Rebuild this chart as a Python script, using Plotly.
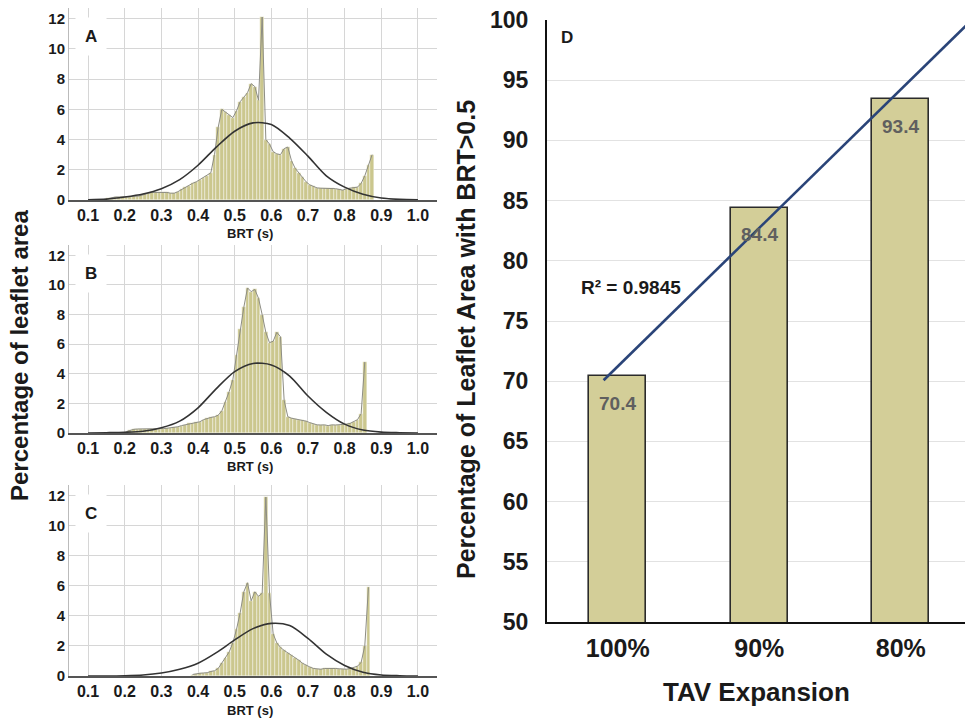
import numpy as np
import plotly.graph_objects as go

FONT = "Liberation Sans, Arial, sans-serif"

# ---------------- Data: BRT histograms (bin centres, % of leaflet area) ----------------
brt_a = [0.155, 0.165, 0.175, 0.185, 0.195, 0.205, 0.215, 0.225, 0.235, 0.245,
         0.255, 0.265, 0.275, 0.285, 0.295, 0.305, 0.315, 0.325, 0.335, 0.345,
         0.355, 0.365, 0.375, 0.385, 0.395, 0.405, 0.415, 0.425, 0.435, 0.445,
         0.455, 0.465, 0.475, 0.485, 0.495, 0.505, 0.515, 0.525, 0.535, 0.545,
         0.555, 0.565, 0.575, 0.585, 0.595, 0.605, 0.615, 0.625, 0.635, 0.645,
         0.655, 0.665, 0.675, 0.685, 0.695, 0.705, 0.715, 0.725, 0.735, 0.745,
         0.755, 0.765, 0.775, 0.785, 0.795, 0.805, 0.815, 0.825, 0.835, 0.845,
         0.855, 0.865, 0.875]
pct_a = [0.1, 0.15, 0.2, 0.2, 0.2, 0.2, 0.22, 0.25, 0.25, 0.3,
         0.4, 0.45, 0.5, 0.5, 0.55, 0.55, 0.5, 0.45, 0.45, 0.55,
         0.7, 0.85, 0.95, 1.1, 1.2, 1.35, 1.45, 1.6, 1.8, 3.0,
         4.8, 6.0, 5.8, 5.6, 5.45, 5.9, 6.5, 6.8, 7.1, 7.7,
         7.5, 6.6, 12.1, 4.0, 3.7, 3.2, 3.05, 3.0, 3.4, 3.5,
         2.6, 2.1, 1.8, 1.5, 1.2, 1.0, 0.9, 0.8, 0.78, 0.78,
         0.78, 0.78, 0.75, 0.7, 0.65, 0.75, 0.8, 0.85, 0.85, 1.1,
         1.6, 2.3, 3.0]

brt_b = [0.205, 0.215, 0.225, 0.235, 0.245, 0.255, 0.265, 0.275, 0.285, 0.295,
         0.305, 0.315, 0.325, 0.335, 0.345, 0.355, 0.365, 0.375, 0.385, 0.395,
         0.405, 0.415, 0.425, 0.435, 0.445, 0.455, 0.465, 0.475, 0.485, 0.495,
         0.505, 0.515, 0.525, 0.535, 0.545, 0.555, 0.565, 0.575, 0.585, 0.595,
         0.605, 0.615, 0.625, 0.635, 0.645, 0.655, 0.665, 0.675, 0.685, 0.695,
         0.705, 0.715, 0.725, 0.735, 0.745, 0.755, 0.765, 0.775, 0.785, 0.795,
         0.805, 0.815, 0.825, 0.835, 0.845, 0.855]
pct_b = [0.1, 0.2, 0.25, 0.27, 0.27, 0.25, 0.25, 0.25, 0.27, 0.3,
         0.3, 0.32, 0.35, 0.38, 0.42, 0.5, 0.55, 0.65, 0.7, 0.75,
         0.76, 0.9, 1.0, 1.05, 1.1, 1.2, 1.5, 2.1, 2.8, 3.6,
         5.3, 7.0, 8.5, 9.8, 9.55, 9.7, 9.1, 8.0, 6.8, 6.1,
         6.2, 6.8, 6.5, 2.2, 1.1, 1.0, 0.95, 0.9, 0.88, 0.8,
         0.7, 0.6, 0.55, 0.54, 0.55, 0.5, 0.55, 0.54, 0.55, 0.6,
         0.6, 0.65, 0.75, 0.9, 1.3, 4.8]

brt_c = [0.385, 0.395, 0.405, 0.415, 0.425, 0.435, 0.445, 0.455, 0.465, 0.475,
         0.485, 0.495, 0.505, 0.515, 0.525, 0.535, 0.545, 0.555, 0.565, 0.575,
         0.585, 0.595, 0.605, 0.615, 0.625, 0.635, 0.645, 0.655, 0.665, 0.675,
         0.685, 0.695, 0.705, 0.715, 0.725, 0.735, 0.745, 0.755, 0.765, 0.775,
         0.785, 0.795, 0.805, 0.815, 0.825, 0.835, 0.845, 0.855, 0.865]
pct_c = [0.1, 0.15, 0.18, 0.2, 0.22, 0.3, 0.35, 0.5, 0.85, 1.2,
         1.6, 2.2, 3.1, 4.2, 5.6, 6.2, 5.0, 5.6, 5.3, 5.5,
         11.9, 5.5, 2.8, 2.2, 1.9, 1.7, 1.55, 1.4, 1.2, 1.05,
         0.85, 0.7, 0.6, 0.5, 0.45, 0.45, 0.5, 0.5, 0.55, 0.5,
         0.48, 0.45, 0.45, 0.5, 0.55, 0.65, 0.9, 2.0, 5.9]

# Fitted normal curves
curve_x = [0.10, 0.15, 0.20, 0.25, 0.30, 0.35, 0.40, 0.45, 0.50, 0.55,
           0.60, 0.65, 0.70, 0.75, 0.80, 0.85, 0.90, 0.95, 1.00]
curve_a = [0.02, 0.06, 0.2, 0.4, 0.75, 1.35, 2.3, 3.5, 4.55, 5.1,
           5.0, 4.1, 2.9, 1.6, 0.85, 0.38, 0.13, 0.04, 0.01]
curve_b = [0.0, 0.02, 0.05, 0.12, 0.35, 0.8, 1.7, 3.0, 4.15, 4.7,
           4.6, 3.85, 2.5, 1.4, 0.6, 0.2, 0.06, 0.02, 0.0]
curve_c = [0.0, 0.0, 0.02, 0.07, 0.2, 0.45, 0.85, 1.55, 2.4, 3.15,
           3.5, 3.35, 2.5, 1.45, 0.7, 0.25, 0.07, 0.02, 0.0]

brt_ticks = [0.1, 0.2, 0.3, 0.4, 0.5, 0.6, 0.7, 0.8, 0.9, 1.0]
pct_ticks = [0, 2, 4, 6, 8, 10, 12]
bin_width = 0.01

# ---------------- Data: panel D ----------------
tav_expansion = ["100%", "90%", "80%"]
area_over_05 = [70.4, 84.4, 93.4]
r_squared_text = "R² = 0.9845"
trend_x_ends = [-0.1, 2.6]

# ---------------- Styling ----------------
HIST_FILL = "#cbc78e"
BAR_FILL = "#d3ce98"
GRID = "#d6d6d6"
TXT = "#1a1a1a"

W, H = 965, 718


def px_x(p):
    return p / W


def px_y(p):
    return 1 - p / H


def label(x, y, text, size, color=TXT, **kw):
    fig.add_annotation(xref="paper", yref="paper", x=px_x(x), y=px_y(y), text=text,
                       showarrow=False, xanchor="center", yanchor="middle",
                       font=dict(family=FONT, size=size, color=color, weight="bold"), **kw)


fig = go.Figure()

panels = [
    ("A", brt_a, pct_a, curve_a, "", (8, 200)),
    ("B", brt_b, pct_b, curve_b, "2", (245, 433)),
    ("C", brt_c, pct_c, curve_c, "3", (485, 676)),
]

for letter, bx, by, cy, sfx, (top, bot) in panels:
    xa, ya = "x" + sfx, "y" + sfx
    fig.add_trace(go.Bar(x=bx, y=by, width=bin_width, xaxis=xa, yaxis=ya,
                         marker=dict(color=HIST_FILL, line=dict(color="white", width=0.4)),
                         showlegend=False, hoverinfo="skip"))
    fig.add_trace(go.Scatter(x=bx, y=by, xaxis=xa, yaxis=ya, mode="lines",
                             line=dict(color="#8d8d84", width=1),
                             showlegend=False, hoverinfo="skip"))
    fig.add_trace(go.Scatter(x=curve_x, y=cy, xaxis=xa, yaxis=ya, mode="lines",
                             line=dict(color="#333333", width=1.6, shape="spline", smoothing=0.8),
                             showlegend=False, hoverinfo="skip"))
    xkey = "xaxis" + sfx
    ykey = "yaxis" + sfx
    fig.update_layout({
        xkey: dict(domain=[px_x(69), px_x(437)], anchor=ya, range=[0.048, 1.052],
                   tickvals=brt_ticks, tickformat=".1f", showgrid=True, gridcolor=GRID,
                   gridwidth=1, zeroline=False, showline=True, linecolor="#555555",
                   linewidth=1.5, ticks="", automargin=False,
                   tickfont=dict(family=FONT, size=16, color=TXT, weight="bold")),
        ykey: dict(domain=[px_y(bot), px_y(top)], anchor=xa, range=[0, 12.7],
                   tickvals=pct_ticks, showgrid=True, gridcolor=GRID, gridwidth=1,
                   zeroline=False, showline=True, linecolor="#bbbbbb", linewidth=1,
                   ticks="", automargin=False,
                   tickfont=dict(family=FONT, size=15, color=TXT, weight="bold")),
    })
    label(91, top + 28, letter, 17, bgcolor="white", borderpad=9)
    label(250, bot + 34, "BRT (s)", 13)

label(19, 356, "Percentage of leaflet area", 24, textangle=-90)

# ---------------- Panel D ----------------
xi = list(range(len(tav_expansion)))
fig.add_trace(go.Bar(x=xi, y=area_over_05, width=0.4, xaxis="x4", yaxis="y4",
                     marker=dict(color=BAR_FILL, line=dict(color="#2b2b2b", width=1.6)),
                     showlegend=False, hoverinfo="skip"))

slope, intercept = np.polyfit(xi, area_over_05, 1)
trend_y = [intercept + slope * t for t in trend_x_ends]
fig.add_trace(go.Scatter(x=trend_x_ends, y=trend_y, xaxis="x4", yaxis="y4", mode="lines",
                         line=dict(color="#2a4478", width=2.6),
                         showlegend=False, hoverinfo="skip"))

fig.update_layout(
    xaxis4=dict(domain=[px_x(547), 1.0], anchor="y4", range=[-0.5, 2.454],
                tickvals=xi, ticktext=tav_expansion, showgrid=False, zeroline=False,
                showline=True, linecolor="#111111", linewidth=2, ticks="",
                ticklabelstandoff=3, automargin=False,
                tickfont=dict(family=FONT, size=25, color=TXT, weight="bold")),
    yaxis4=dict(domain=[px_y(622), px_y(20)], anchor="x4", range=[50, 100], dtick=5,
                showgrid=True, gridcolor="#e2e2e2", gridwidth=1, zeroline=False,
                showline=True, linecolor="#111111", linewidth=2, ticks="",
                ticklabelstandoff=12, automargin=False,
                tickfont=dict(family=FONT, size=23, color=TXT, weight="bold")),
)

for i, v in zip(xi, area_over_05):
    fig.add_annotation(xref="x4", yref="y4", x=i, y=v, yshift=-27, text=f"{v:.1f}",
                       showarrow=False, xanchor="center", yanchor="middle",
                       font=dict(family=FONT, size=19, color="#5f5f5f", weight="bold"))

label(631, 288, r_squared_text, 19)
label(567, 37, "D", 17)
label(756, 692, "TAV Expansion", 26)
label(466, 340, "Percentage of Leaflet Area with BRT>0.5", 25, textangle=-90)

fig.update_layout(
    width=W, height=H,
    margin=dict(l=0, r=0, t=0, b=0),
    paper_bgcolor="white", plot_bgcolor="white",
    bargap=0, showlegend=False,
    font=dict(family=FONT, color=TXT),
)

fig.write_html("out.html", config={"displayModeBar": False},
               post_script="document.body.style.margin='0';document.body.style.overflow='hidden';")
